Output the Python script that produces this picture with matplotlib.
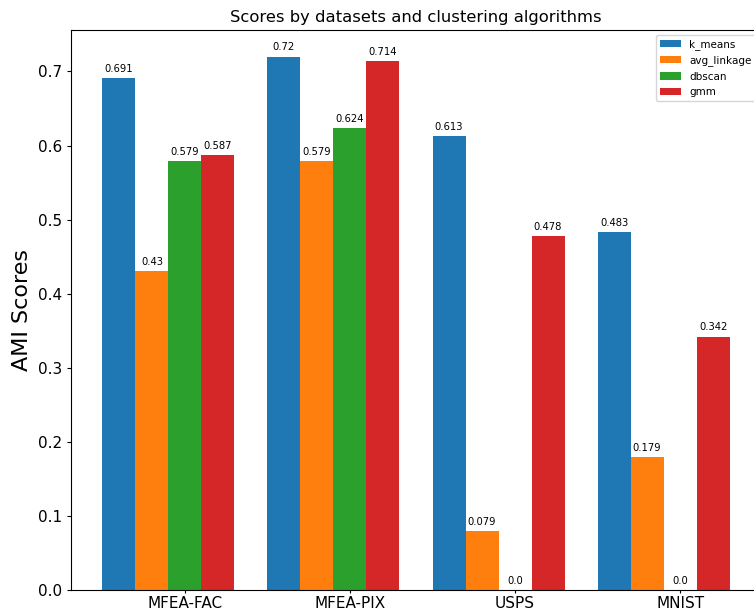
import numpy as np
import matplotlib
matplotlib.use("Agg")
import matplotlib.pyplot as plt

datasets = ["MFEA-FAC", "MFEA-PIX", "USPS", "MNIST"]
algorithms = ["k_means", "avg_linkage", "dbscan", "gmm"]
k_means = [0.691, 0.72, 0.613, 0.483]
avg_linkage = [0.43, 0.579, 0.079, 0.179]
dbscan = [0.579, 0.624, 0.0, 0.0]
gmm = [0.587, 0.714, 0.478, 0.342]

series = [k_means, avg_linkage, dbscan, gmm]
colors = ["#1f77b4", "#ff7f0e", "#2ca02c", "#d62728"]

fig = plt.figure(figsize=(7.54, 6.15), dpi=100)
ax = fig.add_axes([71 / 754, 25 / 615, 690 / 754, 560 / 615])

x = np.arange(len(datasets))
width = 0.2
offsets = [-2, -1, 0, 1]

for vals, name, color, off in zip(series, algorithms, colors, offsets):
    rects = ax.bar(x + off * width, vals, width, label=name, color=color)
    for rect, v in zip(rects, vals):
        ax.annotate(str(v),
                    xy=(rect.get_x() + rect.get_width() / 2, rect.get_height()),
                    xytext=(0, 3), textcoords="offset points",
                    ha="center", va="bottom", fontsize=7.2)

ax.set_ylabel("AMI Scores", fontsize=16)
ax.set_title("Scores by datasets and clustering algorithms", fontsize=11.8)
ax.set_xticks(x)
ax.set_xticklabels(datasets, fontsize=11)
ax.tick_params(axis="x", length=2.5, pad=1.5)
ax.tick_params(axis="y", labelsize=11, length=3, pad=3.5)
ax.legend(loc="upper right", fontsize=7.5)

fig.savefig("out.png", dpi=100)
